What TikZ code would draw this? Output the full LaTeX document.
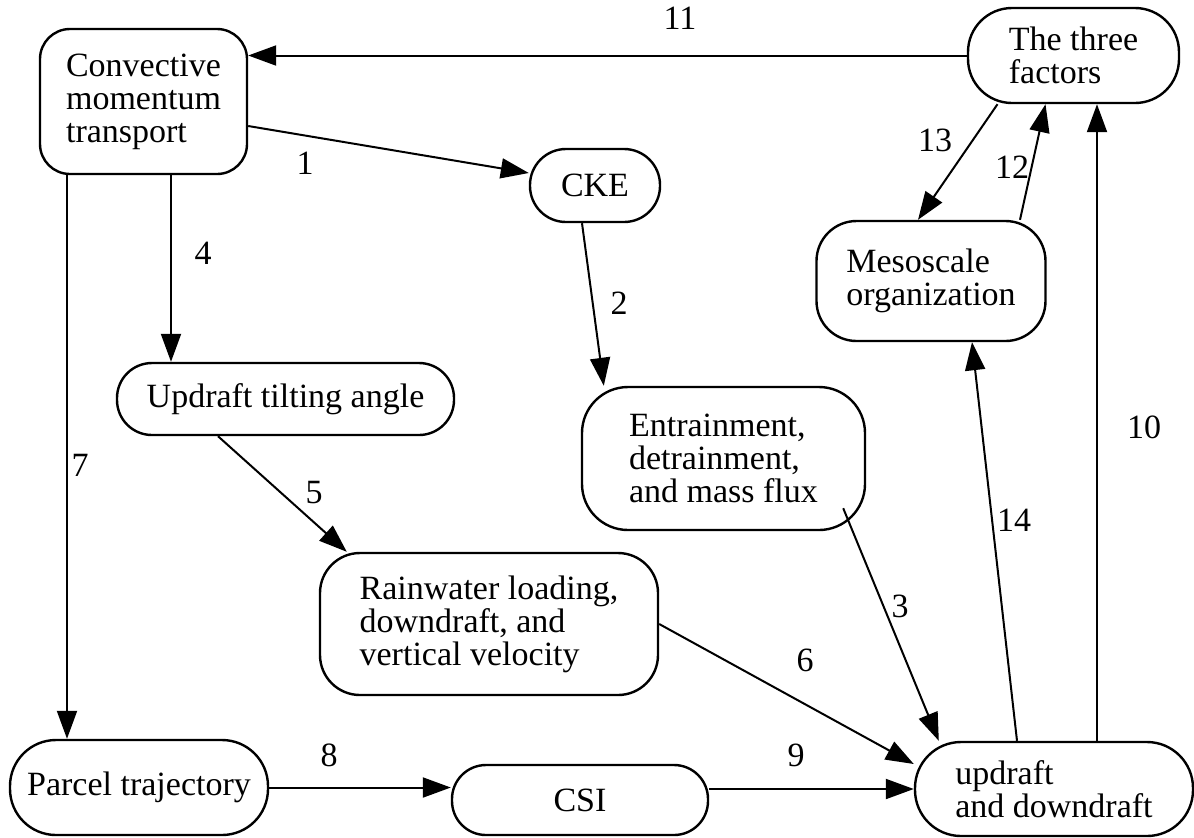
\documentclass[tikz,border=0pt]{standalone}
\usepackage{fontspec}
\setmainfont{Liberation Serif}
\usetikzlibrary{arrows.meta,calc}
\begin{document}
\begin{tikzpicture}[x=0.5pt,y=-0.5pt,
  box/.style={draw, line width=1.2pt, inner sep=0pt, align=left, font=\fontsize{17pt}{16.5pt}\selectfont},
  lbl/.style={inner sep=0pt, font=\fontsize{17pt}{16.5pt}\selectfont},
  arr/.style={line width=1pt, -{Triangle[length=14pt,width=10pt]}}]

\useasboundingbox (0,0) rectangle (1194,837);

% boxes
\node[box, minimum width=103.5pt, minimum height=72.5pt, rounded corners=15pt] (conv) at (143.5,101.5) {Convective\\momentum\\transport};
\node[box, minimum width=105.5pt, minimum height=47.5pt, rounded corners=22pt] (three) at (1073.5,55.5) {The three\\factors};
\node[box, minimum width=65pt, minimum height=36.5pt, rounded corners=18pt] (cke) at (595,185.5) {CKE};
\node[box, minimum width=114.5pt, minimum height=60pt, rounded corners=20pt] (meso) at (931,281) {Mesoscale\\organization};
\node[box, minimum width=168.5pt, minimum height=36pt, rounded corners=17.5pt] (upt) at (285.5,399) {Updraft tilting angle};
\node[box, minimum width=141.5pt, minimum height=71.5pt, rounded corners=23pt] (ent) at (723.5,458.5) {Entrainment,\\detrainment,\\and mass flux};
\node[box, minimum width=169pt, minimum height=71pt, rounded corners=20pt] (rain) at (489,624) {Rainwater loading,\\downdraft, and\\vertical velocity};
\node[box, minimum width=129pt, minimum height=47.5pt, rounded corners=23pt] (parcel) at (139,787.5) {Parcel trajectory};
\node[box, minimum width=128pt, minimum height=35pt, rounded corners=17pt] (csi) at (580,800) {CSI};
\node[box, minimum width=139pt, minimum height=47pt, rounded corners=23pt] (upd) at (1054,789) {updraft\\and downdraft};

% helper coordinates
\coordinate (c4) at ($(conv.south)+(27.5,0)$);
\coordinate (c7) at ($(conv.south)+(-76.5,0)$);
\coordinate (c10) at ($(upd.north)+(43,0)$);

% connectors
\draw[arr] (three.west) -- (conv.east |- three.west);                        % 11
\draw[arr] ($(conv.east)+(0,24.5)$) -- ($(cke.west)+(0,-12.5)$);             % 1
\draw[arr] ($(cke.south)+(-13,0)$) -- ($(ent.north west)+(23,0)$);           % 2
\draw[arr] ($(ent.south east)+(-23,-23)$) -- ($(upd.north west)+(25,0)$);    % 3
\draw[arr] (c4) -- (c4 |- upt.north);                                         % 4
\draw[arr] ($(upt.south)+(-67.5,0)$) -- ($(rain.north west)+(28,0)$);        % 5
\draw[arr] (rain.east) -- ($(upd.west)+(0,-25)$);                             % 6
\draw[arr] (c7) -- (c7 |- parcel.north);                                      % 7
\draw[arr] (parcel.east) -- (csi.west |- parcel.east);                        % 8
\draw[arr] (csi.east |- upd.west) -- (upd.west);                              % 9
\draw[arr] (c10) -- (c10 |- three.south);                                     % 10
\draw[arr] ($(meso.north)+(89,0)$) -- ($(three.south)+(-28,0)$);             % 12
\draw[arr] ($(three.south)+(-76,0)$) -- ($(meso.north)+(-13,0)$);            % 13
\draw[arr] ($(upd.north)+(-37,0)$) -- ($(meso.south)+(41,0)$);               % 14

% labels
\node[lbl] (l1) at (305,163) {1};
\node[lbl] (l2) at (619,303) {2};
\node[lbl] (l3) at (900,606) {3};
\node[lbl] (l4) at (203,253) {4};
\node[lbl] (l5) at (314,493) {5};
\node[lbl] (l6) at (805,660) {6};
\node[lbl] (l7) at (80,465) {7};
\node[lbl] (l8) at (329,755) {8};
\node[lbl] (l9) at (796,755) {9};
\node[lbl] (l10) at (1144,427) {10};
\node[lbl] (l11) at (680,18) {11};
\node[lbl] (l12) at (1012,167) {12};
\node[lbl] (l13) at (935,140) {13};
\node[lbl] (l14) at (1014,520) {14};
\end{tikzpicture}
\end{document}
